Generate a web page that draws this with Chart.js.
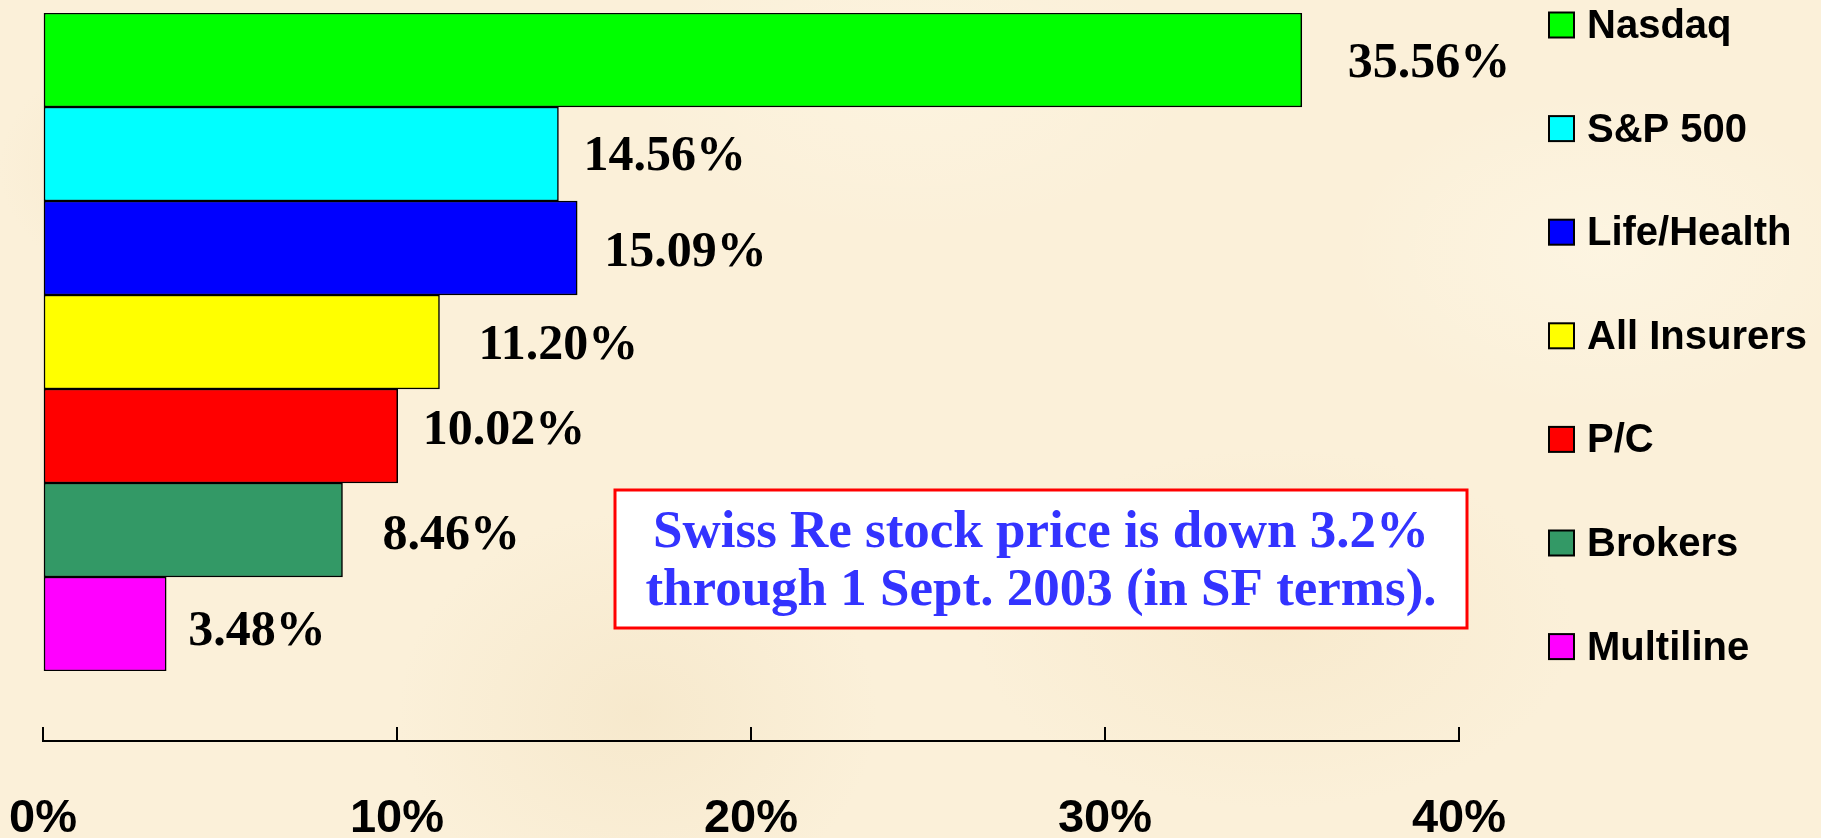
<!DOCTYPE html>
<html>
<head>
<meta charset="utf-8">
<title>Index returns</title>
<script src="https://cdn.jsdelivr.net/npm/chart.js@4.4.1/dist/chart.umd.min.js"></script>
<style>
    html, body { margin: 0; padding: 0; }
    body {
        width: 1821px;
        height: 838px;
        overflow: hidden;
        background-color: #fbf0d9;
        background-image:
            radial-gradient(ellipse 220px 140px at 12% 20%, rgba(236, 214, 170, .35), transparent),
            radial-gradient(ellipse 300px 180px at 70% 75%, rgba(240, 220, 180, .30), transparent),
            radial-gradient(ellipse 260px 160px at 88% 30%, rgba(255, 250, 235, .45), transparent),
            radial-gradient(ellipse 240px 200px at 35% 85%, rgba(236, 216, 176, .30), transparent),
            radial-gradient(ellipse 280px 150px at 50% 10%, rgba(255, 248, 232, .40), transparent);
    }
    #wrap { position: relative; width: 1821px; height: 838px; }
</style>
</head>
<body>
<div id="wrap"><canvas id="barChart"></canvas></div>
<script>
// data
const categories = ['Nasdaq', 'S&P 500', 'Life/Health', 'All Insurers', 'P/C', 'Brokers', 'Multiline'];
const returns = [35.56, 14.56, 15.09, 11.20, 10.02, 8.46, 3.48];
const barColors = ['#00ff00', '#00ffff', '#0000ff', '#ffff00', '#ff0000', '#339966', '#ff00ff'];
const xTicks = [0, 10, 20, 30, 40];
const noteLines = ['Swiss Re stock price is down 3.2%', 'through 1 Sept. 2003 (in SF terms).'];

// value labels were placed by hand on the slide, so each one gets its own nudge
const labelNudge = [[46, 4], [25, 3], [27, 5], [39, 4], [25, -5], [40, 6], [22, 8]];

const sansBold = "bold 40px 'Liberation Sans', Arial, sans-serif";
const serifBold = "'Liberation Serif', 'Times New Roman', serif";

// value labels next to the bars
const valueLabels = {
    id: 'valueLabels',
    afterDatasetsDraw(chart) {
        const ctx = chart.ctx;
        const meta = chart.getDatasetMeta(0);
        ctx.save();
        ctx.font = 'bold 50px ' + serifBold;
        ctx.fillStyle = '#000';
        ctx.textAlign = 'left';
        ctx.textBaseline = 'middle';
        meta.data.forEach((bar, i) => {
            const v = chart.data.datasets[0].data[i];
            ctx.fillText(v.toFixed(2) + '%', bar.x + labelNudge[i][0], bar.y + labelNudge[i][1]);
        });
        ctx.restore();
    }
};

// legend column on the right
const sideLegend = {
    id: 'sideLegend',
    afterDraw(chart) {
        const ctx = chart.ctx;
        const ds = chart.data.datasets[0];
        ctx.save();
        ctx.font = sansBold;
        ctx.textAlign = 'left';
        ctx.textBaseline = 'middle';
        chart.data.labels.forEach((lab, i) => {
            const cy = 25 + i * 103.6;
            ctx.fillStyle = ds.backgroundColor[i];
            ctx.fillRect(1549, cy - 12.5, 25, 25);
            ctx.lineWidth = 2;
            ctx.strokeStyle = '#000';
            ctx.strokeRect(1549, cy - 12.5, 25, 25);
            ctx.fillStyle = '#000';
            ctx.fillText(lab, 1587, cy + 2);
        });
        ctx.restore();
    }
};

// the boxed note
const noteBox = {
    id: 'noteBox',
    afterDraw(chart) {
        const ctx = chart.ctx;
        ctx.save();
        ctx.fillStyle = '#fff';
        ctx.fillRect(615, 490, 852, 138);
        ctx.lineWidth = 3;
        ctx.strokeStyle = '#ff0000';
        ctx.strokeRect(615, 490, 852, 138);
        ctx.font = 'bold 53px ' + serifBold;
        ctx.fillStyle = '#3333ff';
        ctx.textAlign = 'center';
        ctx.textBaseline = 'alphabetic';
        ctx.fillText(noteLines[0], 1041, 547);
        ctx.fillText(noteLines[1], 1041, 605);
        ctx.restore();
    }
};

var ctxB = document.getElementById('barChart').getContext('2d');
var chart = new Chart(ctxB, {
    type: 'bar',
    data: {
        labels: categories,
        datasets: [{
            data: returns,
            backgroundColor: barColors,
            borderColor: '#000',
            borderWidth: 1.5,
            borderSkipped: false,
            barPercentage: 1,
            categoryPercentage: 1
        }]
    },
    options: {
        indexAxis: 'y',
        responsive: true,
        maintainAspectRatio: false,
        animation: false,
        layout: { padding: { left: 43, right: 362, top: 13, bottom: 167 } },
        plugins: {
            legend: { display: false },
            tooltip: { enabled: false }
        },
        scales: {
            y: { display: false, offset: true },
            x: {
                min: xTicks[0],
                max: xTicks[xTicks.length - 1],
                // axis sits below the last bar, like on the slide
                position: { y: 7.245 },
                afterBuildTicks: (axis) => { axis.ticks = xTicks.map(v => ({ value: v })); },
                // tick padding would otherwise push the plot area to the right
                afterFit: (axis) => { axis.paddingLeft = 0; axis.paddingRight = 0; },
                ticks: {
                    color: '#000',
                    padding: 70,
                    maxRotation: 0,
                    font: { family: "'Liberation Sans', Arial, sans-serif", size: 47, weight: 'bold', lineHeight: 1 },
                    callback: (v) => v + '%'
                },
                grid: { drawOnChartArea: false, drawTicks: true, tickLength: -15, color: '#000', lineWidth: 2 },
                border: { display: true, color: '#000', width: 2 }
            }
        }
    },
    plugins: [valueLabels, sideLegend, noteBox]
});
</script>
</body>
</html>
